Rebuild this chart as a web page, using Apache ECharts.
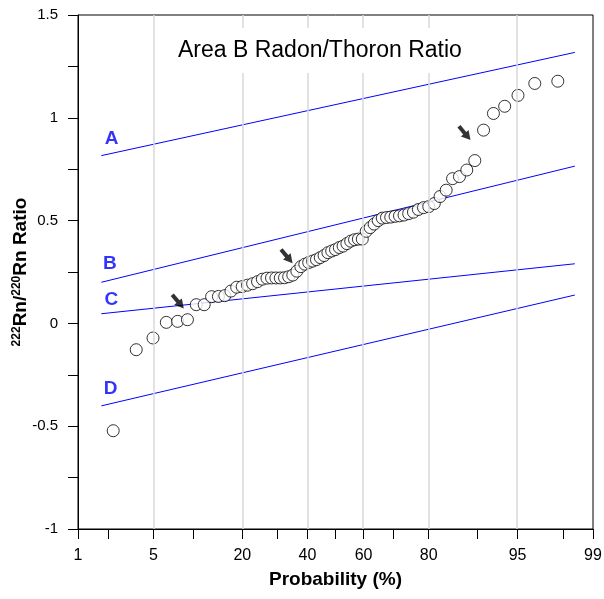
<!DOCTYPE html>
<html><head><meta charset="utf-8">
<script src="https://cdn.jsdelivr.net/npm/echarts@6/dist/echarts.min.js"></script>
<style>html,body{margin:0;padding:0;background:#fff}#c{width:604px;height:599px}</style>
</head><body><div id="c"></div>
<script>
// ---- data (probability in %, ratio) ----
const probabilities = [2.23, 3.59, 4.96, 6.32, 7.69, 9.05, 10.42, 11.78, 13.15, 14.51,
  15.87, 17.24, 18.60, 19.97, 21.33, 22.70, 24.06, 25.43, 26.79, 28.16,
  29.52, 30.89, 32.25, 33.62, 34.98, 36.35, 37.71, 39.08, 40.44, 41.81,
  43.17, 44.54, 45.90, 47.27, 48.63, 50.00, 51.37, 52.73, 54.10, 55.46,
  56.83, 58.19, 59.56, 60.92, 62.29, 63.65, 65.02, 66.38, 67.75, 69.11,
  70.48, 71.84, 73.21, 74.57, 75.94, 77.30, 78.67, 80.03, 81.40, 82.76,
  84.13, 85.49, 86.86, 88.22, 89.59, 90.95, 92.32, 93.68, 95.04, 96.41,
  97.77];
const ratios = [-0.522, -0.128, -0.071, 0.005, 0.010, 0.018, 0.091, 0.091, 0.130, 0.131,
  0.135, 0.157, 0.176, 0.179, 0.186, 0.193, 0.203, 0.215, 0.220, 0.221,
  0.221, 0.221, 0.222, 0.227, 0.235, 0.254, 0.276, 0.288, 0.296, 0.303,
  0.310, 0.320, 0.330, 0.344, 0.352, 0.359, 0.369, 0.376, 0.388, 0.400,
  0.407, 0.410, 0.410, 0.448, 0.466, 0.483, 0.500, 0.512, 0.515, 0.517,
  0.521, 0.523, 0.527, 0.534, 0.541, 0.554, 0.563, 0.568, 0.583, 0.617,
  0.648, 0.704, 0.714, 0.746, 0.792, 0.940, 1.021, 1.056, 1.109, 1.167,
  1.178];

const refLineNames = ['A', 'B', 'C', 'D'];
const refLineProbs = [1.72, 98.47];
const refLineStart = [0.816, 0.200, 0.047, -0.401];
const refLineEnd = [1.318, 0.765, 0.290, 0.138];
const refLabelProbs = [2.16, 2.07, 2.14, 2.11];
const refLabelValues = [0.899, 0.291, 0.115, -0.318];

const arrowProbs = [7.74, 33.0, 87.85];
const arrowValues = [0.106, 0.326, 0.925];

const xTickProbs = [1, 2, 5, 10, 20, 30, 40, 50, 60, 70, 80, 90, 95, 98, 99];
const xLabelProbs = [1, 5, 20, 40, 60, 80, 95, 99];
const xTickLabels = ['1', '5', '20', '40', '60', '80', '95', '99'];
const xGridProbs = [5, 20, 40, 60, 80, 95];
const yMin = -1, yMax = 1.5, yTickStep = 0.25;

// inverse normal CDF (probability scale)
function probit(p) {
  const a=[-3.969683028665376e+01,2.209460984245205e+02,-2.759285104469687e+02,1.383577518672690e+02,-3.066479806614716e+01,2.506628277459239e+00];
  const b=[-5.447609879822406e+01,1.615858368580409e+02,-1.556989798598866e+02,6.680131188771972e+01,-1.328068155288572e+01];
  const c=[-7.784894002430293e-03,-3.223964580411365e-01,-2.400758277161838e+00,-2.549732539343734e+00,4.374664141464968e+00,2.938163982698783e+00];
  const d=[7.784695709041462e-03,3.224671290700398e-01,2.445134137142996e+00,3.754408661907416e+00];
  const pl=0.02425, ph=1-pl; let q, r;
  if (p < pl) { q=Math.sqrt(-2*Math.log(p)); return (((((c[0]*q+c[1])*q+c[2])*q+c[3])*q+c[4])*q+c[5])/((((d[0]*q+d[1])*q+d[2])*q+d[3])*q+1); }
  if (p <= ph) { q=p-0.5; r=q*q; return (((((a[0]*r+a[1])*r+a[2])*r+a[3])*r+a[4])*r+a[5])*q/(((((b[0]*r+b[1])*r+b[2])*r+b[3])*r+b[4])*r+1); }
  q=Math.sqrt(-2*Math.log(1-p)); return -(((((c[0]*q+c[1])*q+c[2])*q+c[3])*q+c[4])*q+c[5])/((((d[0]*q+d[1])*q+d[2])*q+d[3])*q+1);
}
const z = pct => probit(pct / 100);

const FONT = 'Liberation Sans, Arial, sans-serif';
const chart = echarts.init(document.getElementById('c'), null, {renderer: 'canvas'});

const series = [];
// vertical grid lines
series.push({
  type: 'line', data: [], z: 1, silent: true,
  markLine: {
    silent: true, symbol: ['none', 'none'], label: {show: false}, animation: false,
    lineStyle: {color: '#d9d9d9', type: 'solid', width: 1.5},
    data: xGridProbs.map(p => ({xAxis: z(p)}))
  }
});
// reference lines
refLineNames.forEach((n, i) => {
  series.push({
    type: 'line', name: n, z: 2, showSymbol: false, silent: true,
    lineStyle: {color: '#0000ff', width: 1},
    data: [[z(refLineProbs[0]), refLineStart[i]], [z(refLineProbs[1]), refLineEnd[i]]]
  });
});
// reference labels
series.push({
  type: 'scatter', z: 3, silent: true, symbolSize: 1,
  itemStyle: {color: 'rgba(0,0,0,0)'},
  label: {show: true, position: 'inside', formatter: '{b}', color: '#0000ff',
    textBorderWidth: 0, textBorderColor: 'transparent',
    fontWeight: 'bold', fontSize: 19, fontFamily: FONT},
  data: refLineNames.map((n, i) => ({name: n, value: [z(refLabelProbs[i]), refLabelValues[i]]}))
});
// data points
series.push({
  type: 'scatter', z: 4, symbol: 'circle', symbolSize: 12,
  itemStyle: {color: '#ffffff', borderColor: '#000000', borderWidth: 1},
  data: probabilities.map((p, i) => [z(p), ratios[i]])
});
// arrows
series.push({
  type: 'scatter', z: 5, silent: true,
  symbol: 'path://M3,0 L7,0 L7,9 L10,9 L5,18 L0,9 L3,9 Z',
  symbolSize: [10, 18], symbolRotate: 40,
  itemStyle: {color: '#000000'},
  data: arrowProbs.map((p, i) => [z(p), arrowValues[i]])
});

chart.setOption({
  animation: false,
  textStyle: {fontFamily: FONT},
  title: {
    text: 'Area B Radon/Thoron Ratio', left: 168, top: 28, padding: [11, 10],
    backgroundColor: '#ffffff',
    textStyle: {fontSize: 23, fontWeight: 'normal', color: '#000', fontFamily: FONT}
  },
  grid: {left: 78, right: 11, top: 15, bottom: 70, show: true, borderColor: '#000', borderWidth: 1,
    containLabel: false, outerBoundsMode: 'none'},
  xAxis: {
    type: 'value', min: z(1), max: z(99),
    name: 'Probability (%)', nameLocation: 'middle', nameGap: 41, nameMoveOverlap: false,
    nameTextStyle: {fontSize: 19, fontWeight: 'bold', color: '#000', fontFamily: FONT},
    axisLine: {show: true, onZero: false, lineStyle: {color: '#000', width: 1}},
    axisTick: {show: true, inside: false, length: 10, lineStyle: {color: '#000', width: 1}, customValues: xTickProbs.map(z)},
    axisLabel: {fontSize: 16, color: '#000', margin: 19, customValues: xLabelProbs.map(z),
      formatter: v => { const i = xLabelProbs.findIndex(p => Math.abs(z(p) - v) < 1e-6); return i >= 0 ? xTickLabels[i] : ''; }},
    splitLine: {show: false}
  },
  yAxis: {
    type: 'value', min: yMin, max: yMax, interval: yTickStep,
    name: '{sup|222}Rn/{sup|220}Rn Ratio', nameLocation: 'middle', nameGap: 48, nameRotate: 90,
    nameMoveOverlap: false,
    nameTextStyle: {fontSize: 19, fontWeight: 'bold', color: '#000', fontFamily: FONT,
      rich: {sup: {fontSize: 12, fontWeight: 'bold', verticalAlign: 'top', color: '#000', fontFamily: FONT}}},
    axisLine: {show: true, onZero: false, lineStyle: {color: '#000', width: 1}},
    axisTick: {show: true, inside: false, length: 10, lineStyle: {color: '#000', width: 1}},
    axisLabel: {fontSize: 15, color: '#000', margin: 20,
      formatter: v => (Math.abs(v * 2 - Math.round(v * 2)) < 1e-9 ? String(Math.round(v * 2) / 2) : '')},
    splitLine: {show: false}
  },
  series: series
});
</script></body></html>
